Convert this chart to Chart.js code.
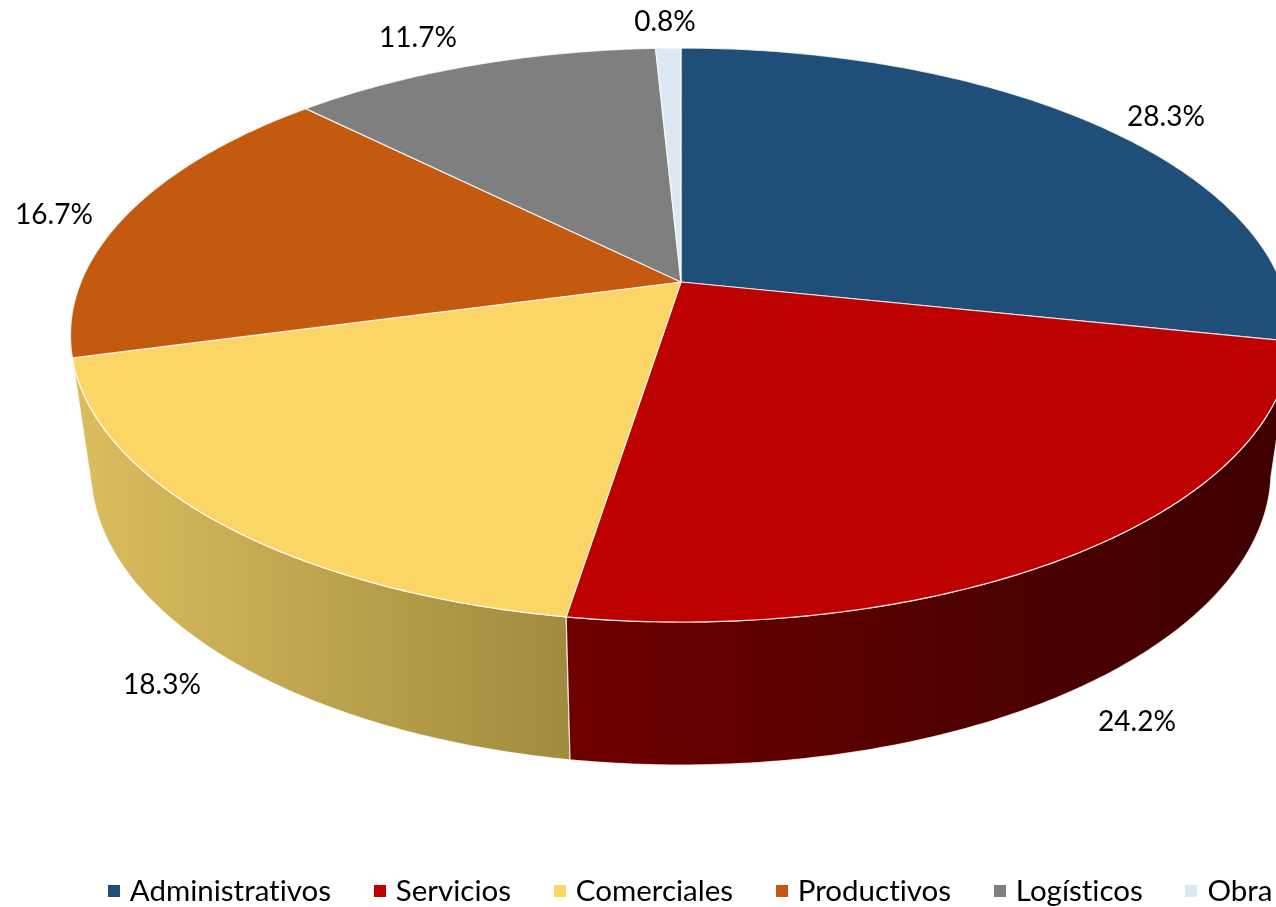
<!DOCTYPE html>
<html><head><meta charset="utf-8">
<style>html,body{margin:0;padding:0;background:#fff;overflow:hidden}canvas{display:block}</style>
<script src="https://cdn.jsdelivr.net/npm/chart.js@4"></script>
</head><body><canvas id="c" width="1276" height="907"></canvas>
<script>
const categories = ['Administrativos','Servicios','Comerciales','Productivos','Logísticos','Obra'];
const shares = [28.3,24.2,18.3,16.7,11.7,0.8];
const topColors = ['#1f4e79','#bd0000','#fbd666','#c45a10','#7f7f7f','#dce8f4'];
const sideStart = ['#16375a','#700000','#dcbe5e','#8a3f0b','#595959','#9aa2aa'];
const sideEnd = ['#0f2a44','#3f0000','#9f8a3e','#8a3f0b','#595959','#9aa2aa'];
const labelCenters = [[1166,117],[1137,722],[162,685],[54,215],[418,38],[665,22]];

const FONT = 'Lato, Carlito, Calibri, sans-serif';
const k = 0.1847, CX = 681;
const TOP = {cy:282, a:600, b:277.2};
const LOW = {cy:415.5, a:580, b:285};
const proj = (p,t) => { const u=Math.cos(t), v=-Math.sin(t), d=1+k*v; return [CX+p.a*u/d, p.cy-p.b*v/d]; };
const rim = (p,a0,a1) => { const n=Math.max(2,Math.ceil(Math.abs(a1-a0)*90)), r=[]; for(let i=0;i<=n;i++) r.push(proj(p,a0+(a1-a0)*i/n)); return r; };
const EDGE = 'rgba(255,255,255,0.8)';

const pie3d = {
  id:'pie3d',
  beforeDraw(chart){ chart.ctx.textRendering='optimizeSpeed'; },
  beforeDatasetsDraw(chart){
    const ctx=chart.ctx, arcs=chart.getDatasetMeta(0).data;
    const order=arcs.map((a,i)=>i).sort((i,j)=>{
      const s=e=>-Math.sin((e.startAngle+e.endAngle)/2);
      return s(arcs[j])-s(arcs[i]);
    });
    ctx.save();
    ctx.lineJoin='round';
    for(const i of order){
      const e=arcs[i], up=rim(TOP,e.startAngle,e.endAngle), lo=rim(LOW,e.endAngle,e.startAngle);
      const g=ctx.createLinearGradient(70,0,1276,0);
      if(i===2){g.addColorStop(0,sideStart[i]);g.addColorStop(0.415,sideEnd[i]);}
      else if(i===1){g.addColorStop(0.415,sideStart[i]);g.addColorStop(0.77,'#4d0000');g.addColorStop(1,sideEnd[i]);}
      else{g.addColorStop(0,sideStart[i]);g.addColorStop(1,sideEnd[i]);}
      ctx.beginPath();
      [...up,...lo].forEach((p,n)=>n?ctx.lineTo(p[0],p[1]):ctx.moveTo(p[0],p[1]));
      ctx.closePath();
      ctx.fillStyle=g; ctx.fill();
      ctx.strokeStyle=EDGE; ctx.lineWidth=1.2; ctx.stroke();
    }
    arcs.forEach((e,i)=>{
      const up=rim(TOP,e.startAngle,e.endAngle);
      ctx.beginPath();
      ctx.moveTo(CX,TOP.cy);
      up.forEach(p=>ctx.lineTo(p[0],p[1]));
      ctx.closePath();
      ctx.fillStyle=topColors[i]; ctx.fill();
      ctx.strokeStyle=EDGE; ctx.lineWidth=1.2; ctx.stroke();
    });
    ctx.fillStyle='#000';
    ctx.font='28px '+FONT;
    ctx.textAlign='center'; ctx.textBaseline='middle';
    shares.forEach((v,i)=>ctx.fillText(v.toFixed(1)+'%',labelCenters[i][0],labelCenters[i][1]));
    ctx.restore();
    return false;
  }
};
const marker = color => { const c=document.createElement('canvas'); c.width=12; c.height=12; const x=c.getContext('2d'); x.fillStyle=color; x.fillRect(0,0,12,12); return c; };

new Chart(document.getElementById('c'),{
  type:'pie',
  data:{labels:categories,datasets:[{data:shares,backgroundColor:topColors,borderWidth:0}]},
  options:{
    responsive:false,animation:false,
    layout:{padding:{left:65,right:-90,bottom:-9}},
    events:[],
    plugins:{
      tooltip:{enabled:false},
      legend:{
        position:'bottom',align:'start',
        labels:{
          font:{family:FONT,size:29.5},color:'#000',padding:47,usePointStyle:true,pointStyleWidth:3,boxHeight:29,
          generateLabels:ch=>categories.map((t,i)=>({text:t,fillStyle:topColors[i],strokeStyle:topColors[i],lineWidth:0,pointStyle:marker(topColors[i]),index:i,hidden:false}))
        }
      }
    }
  },
  plugins:[pie3d]
});
</script></body></html>
